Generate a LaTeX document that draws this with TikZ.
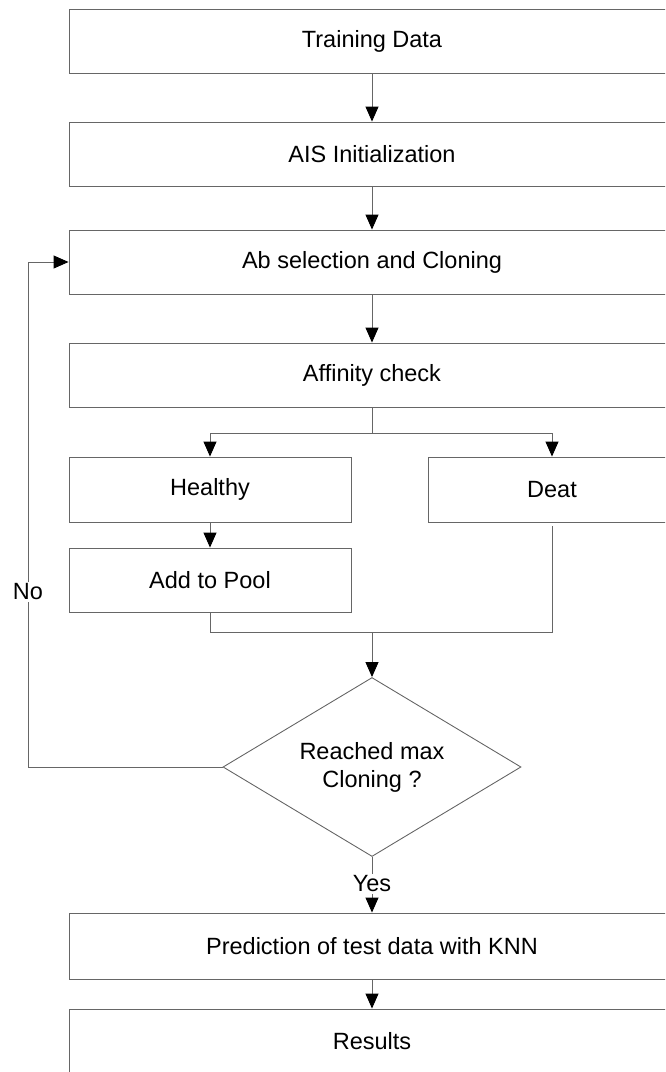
\documentclass[tikz,border=0pt]{standalone}
\usepackage{fontspec}
\setmainfont{Liberation Sans}
\usetikzlibrary{shapes.geometric,arrows.meta,positioning}
\tikzset{
    box/.style={draw=black!60, line width=0.9pt, minimum width=606pt, minimum height=64pt,
                inner sep=0pt, font=\fontsize{23.5}{28}\selectfont},
    halfbox/.style={box, minimum width=282pt, minimum height=65pt},
    decision/.style={diamond, shape aspect=1.66, draw=black!60, line width=0.9pt, minimum width=298pt,
                minimum height=179pt, inner sep=0pt, align=center, font=\fontsize{23.5}{28}\selectfont},
    tag/.style={fill=white, inner sep=2pt, font=\fontsize{23.5}{28}\selectfont},
    line/.style={draw=black!60, line width=0.9pt},
    arrow/.style={line, -{Triangle[width=13pt,length=15pt,color=black]}}
}
\begin{document}
\begin{tikzpicture}[x=1pt,y=-1pt]
        \useasboundingbox (0,0) rectangle (665,1072);
        \clip (0,0) rectangle (665,1072);

        %%%%%%%%%% Nodes %%%%%%%%%%
        \node[box] (train) at (372,41) {Training Data};
        \node[box] (ais) at (372,154) {AIS Initialization};
        \node[box] (ab) at (372,262) {Ab selection and Cloning};
        \node[box] (aff) at (372,375) {Affinity check};
        \node[halfbox] (healthy) at (210,489.5) {Healthy};
        \node[halfbox, minimum width=248pt] (deat) at (552,489.5) {Deat};
        \node[halfbox, minimum height=64pt] (pool) at (210,580) {Add to Pool};
        \node[decision] (dec) at (372,767) {Reached max\\Cloning ?};
        \node[box, minimum height=66pt] (knn) at (372,946) {Prediction of test data with KNN};
        \node[box] (results) at (372,1041) {Results};

        \coordinate (split) at (372,433);
        \coordinate (merge) at (372,632);
        \coordinate (loop) at (28,767);

        %%%%%%%%% Arrows %%%%%%%%%
        \draw[arrow] (train) -- (ais);
        \draw[arrow] (ais) -- (ab);
        \draw[arrow] (ab) -- (aff);

        \draw[line] (aff) -- (split);
        \draw[arrow] (split) -| (healthy);
        \draw[arrow] (split) -| (deat);
        \draw[arrow] (healthy) -- (pool);

        \draw[line] (pool.south) |- (merge) -| ([yshift=-4pt]deat.south);
        \draw[arrow] (merge) -- (dec);

        \draw[arrow] (dec) -- (loop) |- (ab);
        \node[tag] (no) at (28,592) {No};

        \node[tag] (yes) at (372,884) {Yes};
        \draw[line] (dec) -- (yes);
        \draw[arrow] (yes) -- (knn);
        \draw[arrow] (knn) -- (results);
\end{tikzpicture}
\end{document}
